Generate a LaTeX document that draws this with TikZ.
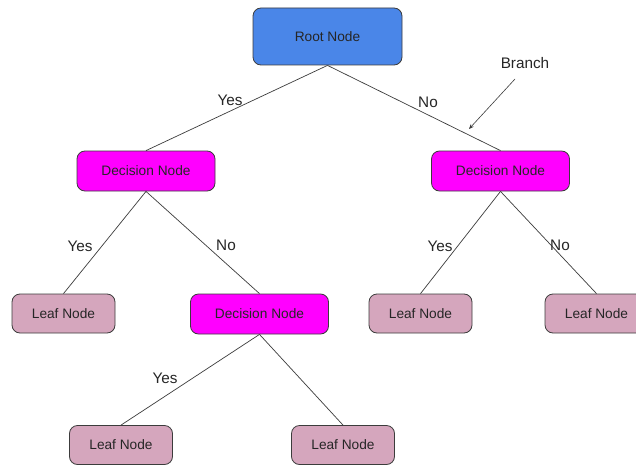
\documentclass[tikz,border=0pt]{standalone}
\usepackage{fontspec}
\setmainfont{Liberation Sans}
\usetikzlibrary{arrows.meta}
\definecolor{rootblue}{HTML}{4A86E8}
\definecolor{decmag}{HTML}{FF00FF}
\definecolor{leafpink}{HTML}{D5A6BD}
\definecolor{edgegray}{HTML}{3C3C3C}
\begin{document}
\begin{tikzpicture}[x=1pt,y=-1pt,
  box/.style={draw=edgegray, line width=0.8pt, rounded corners=8pt, inner sep=0pt,
    font=\fontsize{13.7}{16}\selectfont, text=black!85},
  rootbox/.style={box, fill=rootblue, minimum width=149pt, minimum height=57pt},
  decbox/.style={box, fill=decmag, minimum width=138pt, minimum height=40pt},
  leafbox/.style={box, fill=leafpink, minimum width=103pt, minimum height=39pt},
  link/.style={draw=edgegray, line width=0.7pt},
  lbl/.style={font=\fontsize{15.3}{18}\selectfont, text=black!85, inner sep=0pt}]
\useasboundingbox (0,0) rectangle (636,468);
\fill[white] (0,0) rectangle (636,468);
% nodes
\node[rootbox] (root) at (327.5,36.5) {Root Node};
\node[decbox] (decL) at (146,171) {Decision Node};
\node[decbox] (decR) at (500.5,171) {Decision Node};
\node[leafbox] (leafL) at (63.5,313.5) {Leaf Node};
\node[decbox] (decM) at (259.5,314) {Decision Node};
\node[leafbox] (leafR1) at (420.5,313.5) {Leaf Node};
\node[leafbox] (leafR2) at (596.5,313.5) {Leaf Node};
\node[leafbox] (leafB1) at (121,445) {Leaf Node};
\node[leafbox] (leafB2) at (343,445) {Leaf Node};
% branches
\draw[link] (root.south) -- (decL.north);
\draw[link] (root.south) -- (decR.north);
\draw[link] (decL.south) -- (leafL.north);
\draw[link] (decL.south) -- (decM.north);
\draw[link] (decR.south) -- (leafR1.north);
\draw[link] (decR.south) -- (leafR2.north);
\draw[link] (decM.south) -- (leafB1.north);
\draw[link] (decM.south) -- (leafB2.north);
% branch labels
\node[lbl] (y1) at (230,100) {Yes};
\node[lbl] (n1) at (428,102) {No};
\node[lbl] (y2) at (80,246) {Yes};
\node[lbl] (n2) at (226,245) {No};
\node[lbl] (y3) at (440,246) {Yes};
\node[lbl] (n3) at (560,245) {No};
\node[lbl] (y4) at (165,378) {Yes};
% annotation
\node[lbl] (br) at (525,63) {Branch};
\coordinate (brtip) at (469,129);
\draw[link, line width=0.6pt, -{Stealth[length=5pt,width=4pt]}] (515,79) -- (brtip);
\end{tikzpicture}
\end{document}
